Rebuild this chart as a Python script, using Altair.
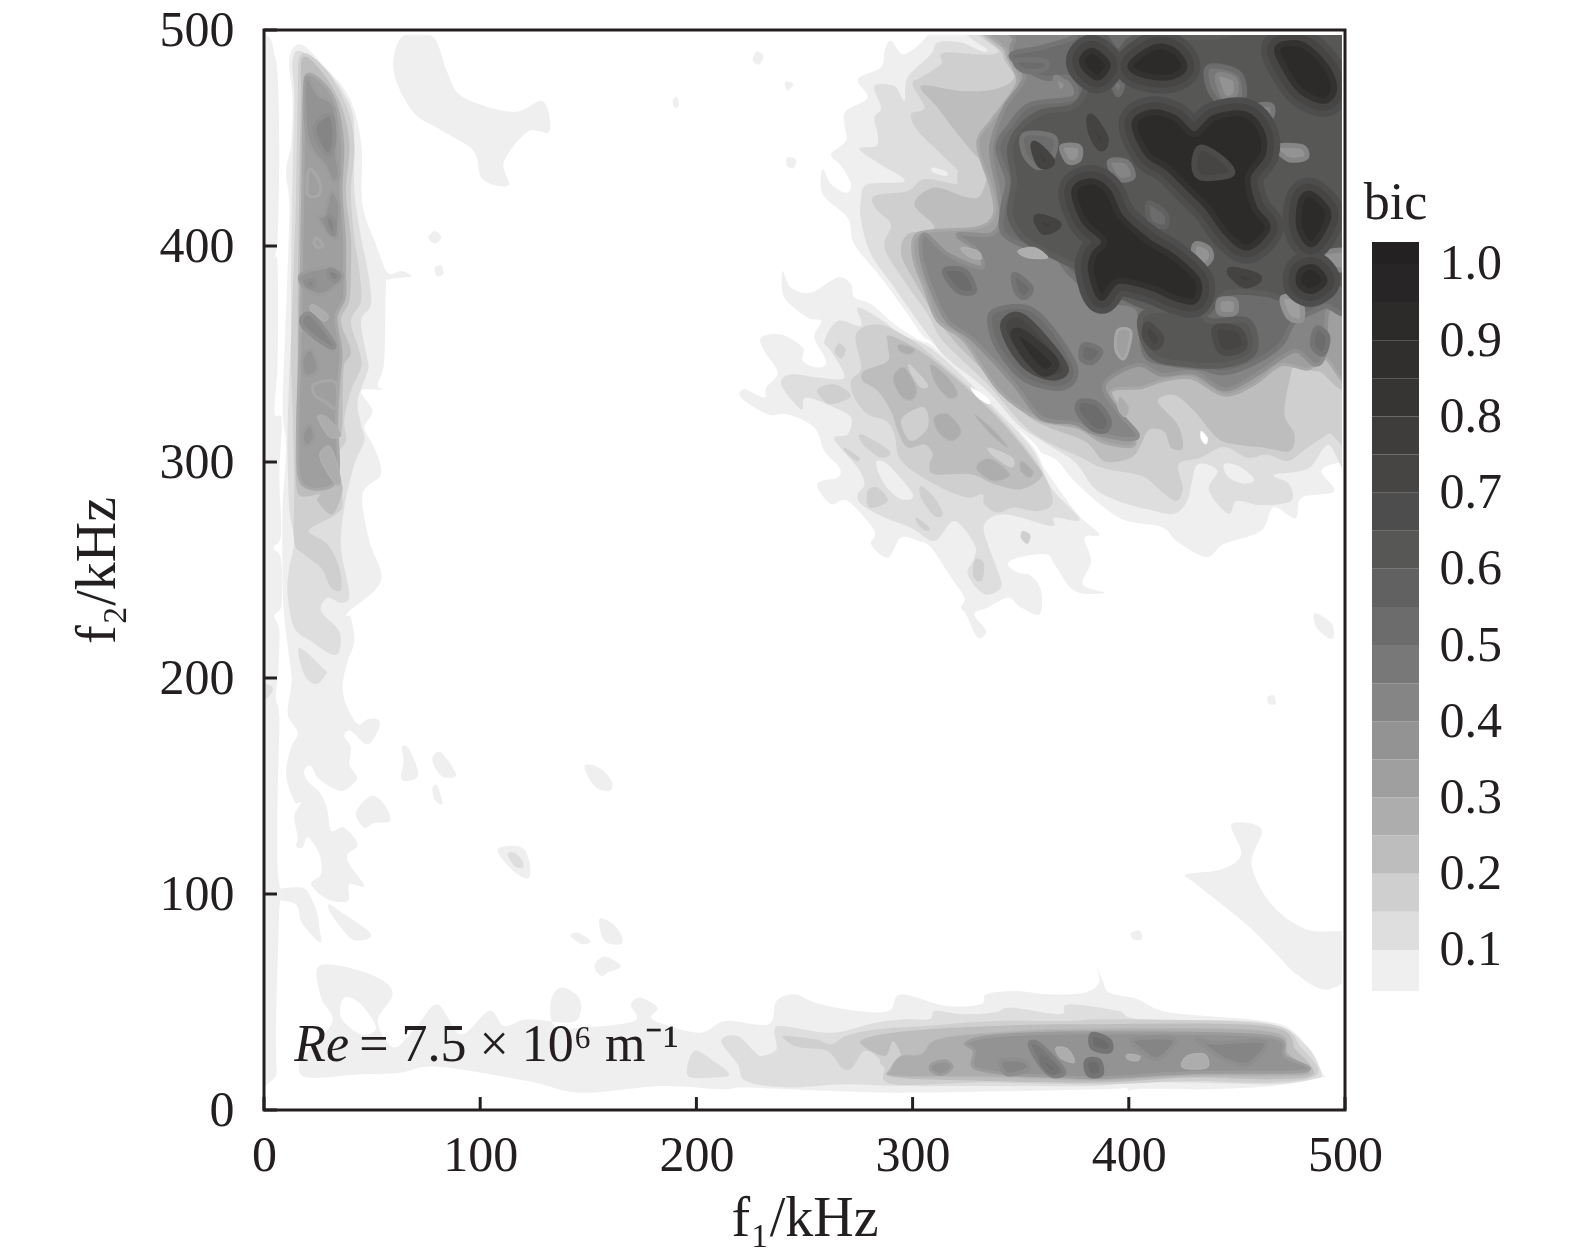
import altair as alt
import pandas as pd

INK = "#231f20"
FONT = "Liberation Serif"

# ---------- tick values and text ----------
AXIS_TICKS = [0, 100, 200, 300, 400, 500]
CBAR_TICKS = [0.1, 0.2, 0.3, 0.4, 0.5, 0.6, 0.7, 0.8, 0.9, 1.0]

# ---------- colour bands of the bic scale ----------
BAND_LOW = [0.046, 0.1, 0.15, 0.2, 0.25, 0.3, 0.35, 0.4, 0.45, 0.5, 0.55, 0.6, 0.65, 0.7, 0.75, 0.8, 0.85, 0.9, 0.95, 1.0]
BAND_HIGH = [0.1, 0.15, 0.2, 0.25, 0.3, 0.35, 0.4, 0.45, 0.5, 0.55, 0.6, 0.65, 0.7, 0.75, 0.8, 0.85, 0.9, 0.95, 1.0, 1.029]
LEVELS = [0, 0.05, 0.1, 0.15, 0.2, 0.25, 0.3, 0.35, 0.4, 0.45, 0.5, 0.55, 0.6, 0.65, 0.7, 0.75, 0.8, 0.85, 0.9, 0.95, 1.0]
GRAYS = ["#ffffff", "#efefef", "#dedede", "#cfcfcf", "#bdbdbd", "#adadad", "#9f9f9f", "#939393", "#858585", "#787878",
         "#6c6c6c", "#616161", "#575755", "#4e4d4d", "#464544", "#3e3d3c", "#363534", "#302f2e", "#2c2b29", "#272525", "#232122"]
EDGE_GRAYS = ["#ffffff", "#efefef", "#e6e6e6", "#d6d6d6", "#c6c6c6", "#b5b5b5", "#a8a8a8", "#9c9c9c", "#8e8e8e", "#808080",
              "#747474", "#686868", "#5d5d5c", "#545453", "#4c4b4a", "#444342", "#3c3b3a", "#393837", "#333230", "#333230", "#333230"]
EDGE_WIDTHS = [0, 0, 0, 0, 0, 1, 3, 3, 4, 4, 5, 5, 6, 6, 6, 8, 8, 8, 6, 6, 6]

# ---------- contours: (f1 kHz, f2 kHz) ----------
LEFT_STRIP = [(-5, 497), (2.5, 496.4), (4.8, 488.7), (6.3, 479.4), (7.1, 445.5), (6.3, 403.8), (4.8, 394.6), (6.3, 391.5), (6.3, 346.7),
              (4.8, 322.8), (8.2, 319.7), (7.1, 294.3), (7.9, 266.5), (4.5, 260.3), (7.9, 254.9), (8.2, 234.1), (4.8, 228.7), (7.1, 221.7),
              (6.6, 203.2), (5.5, 190.9), (7.1, 181.7), (6.3, 146.2), (6.3, 112.2), (7.9, 100), (7.1, 92.9), (6.3, 68.9), (5.5, 40), (5.5, 25), (5, 15), (-5, 14),
              (-5, 60), (-5, 120), (-5, 200), (-5, 300), (-5, 400), (-5, 470)]
BAND_V_05 = [(17, 493.3), (11.7, 487), (13.2, 468.6), (12.5, 447), (10.2, 434.7), (11.7, 419.3), (10.9, 388.4), (9.4, 349.8), (8.6, 323.6),
             (10.2, 306.6), (8.6, 278.8), (8.6, 248), (9.4, 227.9), (12.5, 203.2), (12.5, 195.6), (11, 183.2), (15.6, 174.7), (12.5, 167.8),
             (10.2, 155.4), (14, 143.1), (17.1, 142.3), (14, 136.1), (15.6, 126.1), (14.8, 122.2), (17.9, 121.5), (20.2, 126.4), (25.6, 118.4),
             (26.4, 109.1), (21.7, 104.5), (29.4, 97.6), (38.7, 96.8), (39.5, 104.5), (46.4, 103.7), (39.5, 113.8), (38.7, 118.4), (43.3, 123),
             (37.1, 130.7), (31, 129.2), (29.4, 138.5), (26.4, 146.2), (20.2, 152.3), (18.6, 157), (21.7, 159.3), (25.6, 153.1), (35.6, 147.7),
             (42.5, 152.3), (42.5, 155.4), (39.5, 160), (40.2, 167.8), (37.1, 173.2), (40.2, 175.5), (47.9, 169.3), (53.3, 177), (52.6, 180.9),
             (47.9, 180.9), (43.3, 178.6), (37.9, 187.8), (36.4, 197.1), (38.7, 207.9), (41.8, 217), (40.2, 227.9), (38.7, 230.2), (54.1, 244.9),
             (48.7, 263.4), (45.6, 285), (54.1, 294.3), (51, 306.6), (46.4, 315.9), (50.2, 323.6), (44.9, 332.9), (54.9, 333.6), (52.6, 335.9),
             (55.6, 346.7), (56.4, 380.7), (58, 384.5), (68, 386), (63.4, 388.4), (57.2, 387.6), (51.8, 400.7), (45.5, 419.3), (45, 447),
             (39.5, 468.6), (27, 484.1)]
BAND_V_10 = [(17.1, 490.2), (29.4, 481), (40.2, 464), (41.8, 447), (41.8, 425.4), (44.9, 403.8), (48, 388.4), (49.5, 373), (44.9, 365.2), (48, 346.7),
             (48, 342.1), (43.3, 328.2), (44.9, 317.4), (46.4, 309.7), (41.8, 298.9), (37.1, 278.8), (35.6, 260.3), (39.5, 238.7), (35.6, 234.9),
             (29.4, 237.2), (26.4, 231), (34.8, 221.7), (34.8, 212.5), (31, 211), (21.7, 217.1), (14, 223.3), (10.9, 238.7), (11.7, 251.1), (14, 263.4),
             (11.7, 278.8), (10.9, 309.7), (11.7, 340.6), (12.5, 360.6), (12.5, 388.4), (13.2, 433.1), (14, 468.6), (13.2, 485.6)]
BAND_V_10B = [(16.3, 214), (27.9, 204), (28.7, 201.7), (24, 197.1), (18.6, 201.7)]
BAND_V_15 = [(17.1, 488.7), (27.9, 482.5), (37.9, 465.5), (41.8, 447), (40.2, 425.4), (41.8, 403.8), (44.1, 388.4), (44.9, 374.5), (40.2, 365.2),
             (44.1, 351.4), (44.9, 343.7), (40.2, 332.9), (37.1, 319), (37.9, 309.7), (32.5, 300.4), (36.4, 281.9), (33.3, 275.8), (23.3, 270.4),
             (21, 267.3), (29.4, 261.9), (34.8, 251), (35.6, 241), (31, 241.8), (26.4, 251), (18.6, 257.2), (14, 263.4), (14, 288.1), (13.2, 325.1),
             (12.5, 348.3), (13.2, 376), (14.8, 422.3), (15.6, 468.6)]
BAND_V_20 = [(17.9, 487.2), (26.4, 481), (35.6, 465.5), (39.5, 447), (37.9, 425.4), (40.2, 403.8), (40.2, 388.4), (39.5, 374.5), (35.6, 365.2),
             (40.2, 351.4), (37.1, 345), (36.4, 332.9), (35.6, 312.8), (29.4, 305), (31.7, 294.3), (36.4, 288.1), (31.7, 275.8), (24.8, 281.9),
             (25.6, 285), (17.1, 284.2), (14.8, 291.2), (14.8, 317.4), (15.6, 348.3), (15.6, 376), (16.3, 422.3), (17.1, 468.6)]
BAND_V_30 = [(20.2, 479.4), (27.9, 474.8), (33.3, 465.5), (36.4, 447), (35.6, 425.4), (37.2, 403.8), (37.2, 388.4), (37.2, 376), (33.3, 366.8), (35.6, 351.4),
             (34.8, 340), (33.6, 320), (33.3, 291.2), (17.9, 289.6), (15.6, 309.7), (16.3, 340.6), (17.1, 376), (17.9, 422.3), (18.6, 468.6)]
V_LIGHT_30 = [[(23.3, 336), (33, 337), (33.3, 325.1), (27.9, 328.2), (23.3, 331.3)],
              [(21, 435.5), (25.6, 430), (25.6, 423.9), (20.2, 423.9)],
              [(24, 403.8), (27.1, 400.7), (25.6, 399.2), (23.3, 400.7)]]
V_LIGHT_25 = [[(24.8, 321.3), (29.4, 320.5), (35.6, 312.8), (31, 311.2), (27.1, 315.9)],
              [(26.4, 305.1), (31, 306.6), (35.6, 291.2), (32.5, 290.4), (26.4, 300.4)],
              [(22.5, 373), (29.4, 368.3), (27.9, 365.2), (21.7, 369.9)]]
V_DARK_35 = [[(19.4, 477.9), (24.8, 470.2), (32.5, 464), (33.3, 443.9), (34.8, 433.1), (31.7, 430), (27.9, 437.8), (22.5, 443.9), (19.4, 454.7)],
             [(27.9, 414.6), (31, 425.4), (34.8, 419.3), (34, 405.4), (31.7, 403.8), (24.8, 413.1)],
             [(17.1, 386.8), (29.4, 390), (36.4, 386.8), (34, 382.2), (26.4, 377.6), (18.6, 380.7)],
             [(17.9, 348.3), (21.7, 352.1), (24.8, 345.2), (23.3, 340.6), (18.6, 340.6)],
             [(17.9, 312.8), (21, 317.4), (23.3, 312.8), (21.7, 308.2), (18.6, 308.2)]]
V_DARK_40 = [[(23.3, 454.7), (27.9, 460.1), (31.7, 459.4), (32.5, 448.6), (30.2, 442.4), (26.4, 445.5)],
             [(30.2, 413.9), (32.5, 411.5), (32.5, 405.4), (30.2, 406.9), (28.7, 411.5)],
             [(30.2, 389.2), (34.8, 386.8), (33.3, 383.8), (30.2, 385.3)],
             [(19.4, 383.8), (23.3, 383.8), (22.5, 380.7), (20.2, 381.4)],
             [(17.1, 365.2), (21.7, 368.3), (31.7, 356), (31, 352.9), (21.7, 359.1)]]

CENTRE_05 = [(239.9, 388.4), (243.8, 380.7), (253, 378.4), (265.4, 385.4), (271.5, 382.3), (273.1, 376.1), (280.8, 373), (291.6, 363.8), (303.9, 356),
             (310.1, 353), (331.7, 332.9), (354.8, 308.2), (361.8, 295.8), (376.4, 275.8), (386.4, 266.5), (379.5, 265), (382.6, 254.2), (378.7, 243.4),
             (388.7, 239.5), (374.9, 240.3), (365.6, 252.7), (361.8, 257.3), (348.6, 255.7), (344, 252.7), (348.6, 248.8), (354.8, 247.3), (359.4, 240.3),
             (358.7, 229.5), (350.2, 232.6), (344, 237.2), (334.8, 232.6), (328.6, 229.5), (334, 221.8), (330.1, 218.7), (324.7, 229.5), (322.4, 232.6),
             (324, 237.2), (317.8, 246.5), (308.5, 260.4), (302.4, 263.5), (294.7, 265), (288.5, 255.7), (280.8, 261.9), (282.3, 268.1), (270, 282),
             (262.3, 280.5), (256.1, 288.1), (257.7, 291.2), (265.4, 292.8), (266.2, 297.4), (259.2, 305.1), (254.6, 315.9), (242.2, 322.1), (233, 322.1),
             (220.7, 329.8), (222.2, 333.7), (231.4, 329.8), (232.2, 334.4), (237.6, 341.4), (231.4, 351.4), (229.9, 357.6), (239.2, 359.1), (249.2, 352.9),
             (249.2, 346.8), (256.1, 343.7), (260, 346.8), (254.6, 357.6), (257.7, 365.3), (251.5, 366.8), (240.7, 376.1)]
CENTRE_10 = [(239.2, 336), (243.8, 340.6), (256.1, 339.1), (268.4, 339.1), (262.3, 351.4), (259.2, 356), (265.4, 365.3), (276.2, 363), (274.6, 371.5),
             (285.4, 366), (294.7, 359.1), (310.1, 351.4), (333.2, 329.8), (354.8, 306.7), (364.1, 288.1), (377.2, 273.5), (365.6, 274.3), (364.1, 270.4),
             (342.5, 275.8), (333.2, 271.2), (334.8, 261.9), (339.4, 249.6), (340.9, 241.9), (333.2, 238.8), (325.5, 248), (328.6, 255.7), (328.6, 261.9),
             (319.3, 272.7), (310.1, 263.5), (299.3, 269.6), (287, 274.3), (276.2, 280.4), (274.6, 285), (277.7, 289.7), (274.6, 297.4), (263.8, 310.5),
             (270, 312.8), (271.5, 320.6), (263.8, 325.2), (250.7, 329.8), (248.4, 324.4)]
CENTRE_15 = [(283.9, 363.8), (297.7, 357.6), (310.1, 348.3), (336.3, 325.2), (357.9, 299), (364.8, 282), (357.9, 277.3), (347.1, 278.9), (339.4, 276.6),
             (333.2, 280.4), (332.4, 285.1), (326.3, 283.5), (316.3, 286.6), (302.4, 294.3), (293.9, 302), (291.6, 312.8), (287.7, 319), (279.2, 322.1),
             (273.1, 329.8), (271.5, 337.5), (276.2, 343.7), (273.8, 359.1)]
CENTRE_20 = [(290, 358.4), (310.1, 346.8), (337.8, 322.1), (357.1, 299), (359.4, 292.8), (350.2, 287.4), (337.8, 289.7), (327, 294.3), (310.1, 294.3),
             (307.8, 299), (309.3, 303.6), (305.5, 308.2), (297.7, 306.7), (293.1, 314.4), (290, 323.6), (283.9, 332.9), (277, 337.5), (277.7, 342.2),
             (288.5, 346.8), (288.5, 354.5)]
C_HOLE_05 = [(283.1, 299.7), (288.5, 298.9), (300.1, 285.1), (294.7, 282.7), (287, 289.7)]
C_SPOTS_15 = [[(279.2, 286.6), (283.9, 288.1), (288.5, 281.9), (280, 278.9)],
              [(303.9, 288.9), (310.1, 283.5), (314, 275.8), (310.1, 275), (303.9, 283.5)],
              [(268.5, 306.7), (275.4, 302), (273.9, 300.5), (269.2, 304.4)],
              [(276.2, 312.8), (289.3, 305.1), (285.4, 302), (276.9, 308.2)],
              [(256.1, 333.7), (263.8, 336), (271.5, 330.6), (262.3, 326.7), (257.7, 329.8)],
              [(301.6, 274.3), (307.8, 269.7), (306.2, 268.1), (302.4, 271.2)],
              [(266, 355), (269, 352), (267, 348), (264, 351)],
              [(351, 268), (354.5, 266), (353, 262), (350, 265)],
              [(329, 255), (333, 253), (332, 245), (328, 247)]]
C_LIGHT_15 = [[(297, 322.1), (305.5, 325.2), (307, 315.9), (299.3, 309.8), (294.7, 317.5)],
              [(335.5, 306.7), (346.3, 302), (345.6, 297.4), (336.3, 303.6)],
              [(298.5, 345.2), (307, 336), (303.9, 334.4), (299.3, 340.6)]]
C_DARK_25 = [[(291.6, 340.6), (296.2, 343.7), (301.6, 334.4), (300.1, 329), (295.4, 329.8), (291.6, 336)],
             [(310.1, 320.6), (316.3, 322.1), (322.4, 314.4), (317.8, 309.8), (311.6, 314.4)],
             [(330.1, 299), (336.3, 301.3), (344.8, 294.3), (337.8, 291.2), (330.9, 295.1)],
             [(308.5, 345.2), (316.3, 339.1), (320.9, 331.4), (316.3, 329.8), (310.1, 337.5)],
             [(328.6, 322.1), (337.8, 314.4), (344, 306.7), (336.3, 312.8)],
             [(350.2, 300.5), (355.6, 295.8), (354, 292.8), (350.2, 295.8)],
             [(293.9, 354.5), (300.8, 352.2), (298.5, 349.9), (293.9, 351.4)]]
GAP_WHITE = [(327, 334.5), (334.7, 329.8), (335.5, 326.7), (330.1, 329.8)]

TR_05 = [(307, 505), (505, 505), (505, 300), (498.6, 300), (489, 296), (495, 286.5), (480, 283.5), (477, 274), (467, 279), (461, 268), (444, 262), (436, 256),
         (422.6, 263), (415, 270), (396, 274), (376.4, 289.6), (367, 300.5), (359.4, 304.5), (354.8, 310), (330, 332), (310, 354), (304.7, 358.4), (297.7, 368.4), (285.4, 385.4),
         (273, 400.8), (270, 413), (258.4, 424), (258.4, 435.5), (262.3, 428.6), (269.2, 424.7), (271.5, 428.6), (267, 437), (262.3, 442.5), (269.2, 448.6), (268.4, 456.4),
         (269.2, 462.5), (279.2, 468.7), (274.6, 477.2), (285.4, 482.6), (287, 490.3), (290, 495), (296.2, 488.8), (307, 497.7)]
TR_10 = [(335.5, 505), (505, 505), (505, 308), (492, 308), (483, 297), (467, 294), (474, 290), (475, 282), (461, 280), (450, 282), (446, 276), (437, 287), (441, 296),
         (432, 299), (429, 290), (427, 282), (421, 276), (409, 278), (395, 282), (384, 288), (375, 300), (361, 309), (348.6, 317.5), (334.7, 332.9), (315.6, 348.3),
         (309.3, 356), (302.4, 365.3), (291.6, 380.7), (280.8, 396.2), (276.2, 411.6), (276.2, 422.4), (279.2, 428.6), (296.2, 430.1), (286.2, 437.1), (275.4, 444.8), (283.1, 446.3),
         (283.9, 451.7), (282.3, 459.4), (285.4, 464), (282.3, 474.1), (291.6, 474.1), (296.2, 467.2), (297.7, 478), (308.5, 488.8), (311.6, 494.2), (322.4, 494.2), (334.7, 490.3)]
TR_15 = [(340, 505), (505, 505), (505, 323.6), (492, 313), (483, 307), (473.5, 300.5), (464, 303.5), (455, 302), (444, 307), (433, 302), (423, 299), (425, 288),
         (422, 282), (415, 286.5), (406, 293.5), (389, 297), (378, 302), (354.8, 314), (334.7, 336), (314, 356), (307, 368.4), (296.2, 383.8), (287, 399.3), (290, 410), (283.1, 417),
         (282.3, 423.2), (297.7, 425.5), (305.5, 430.9), (320.9, 428.6), (323.9, 431.7), (313.2, 442.5), (302.4, 453.3), (299.3, 461), (305.5, 464), (300, 474.9), (303.9, 478),
         (313.2, 484.1), (314.7, 489.5), (339.4, 489.5)]
TR_20 = [(344, 505), (505, 505), (505, 346.7), (487.4, 342), (477.4, 345), (474.3, 337.5), (472, 322), (476.6, 312.8), (474.3, 305), (462.7, 306.6), (450.4, 308),
         (441, 311), (430.3, 323.6), (421, 331), (413.4, 328), (422.6, 317.4), (425, 306.6), (419.5, 306.6), (416.5, 314), (409.5, 315), (405.6, 308), (401, 302),
         (388.7, 300.4), (379.4, 309.7), (355, 320), (335, 340), (319.3, 356), (310.1, 368.4), (300.8, 383.8), (294.7, 396.2), (297.7, 405.4), (310.1, 408.5), (300.8, 419.3),
         (310.1, 427), (325.5, 422.4), (331.7, 424), (334.7, 436.3), (328.6, 442.5), (320.9, 451.7), (311.6, 464), (303.9, 474.1), (322.4, 471.8), (337.8, 472.6), (347, 478), (341.7, 488.8)]
TR_30 = [(345.5, 505), (505, 505), (505, 348), (490.5, 348), (482.8, 343), (470.4, 345), (458, 336), (444.2, 331), (428.8, 339), (415, 337.5), (405.7, 334.4),
         (391.8, 332.8), (398, 320.5), (402.6, 308), (388.7, 309), (376.4, 316), (358, 320), (340, 333), (324, 356), (311.6, 365.3), (305.5, 380.7), (300.8, 393.1), (300.8, 403.9),
         (308.5, 407), (330.1, 408.5), (337.8, 414.7), (336.3, 427), (330.1, 447.1), (336.3, 457.9), (340.9, 464), (348.6, 476.4), (343.2, 490.3)]
TR_40 = [(358, 505), (505, 505), (505, 373), (498.6, 373), (492, 370), (490.5, 349.8), (486, 345), (478, 351.4), (470.4, 348.3), (458, 339.8), (444.2, 333.6),
         (430.3, 341.3), (415, 340.5), (404, 345), (388.7, 336), (395, 323.6), (404, 313), (399.5, 310.5), (384, 313.5), (375, 318), (359.4, 320.5), (347, 336),
         (328.6, 356), (316.2, 365.3), (308.5, 380.7), (303.9, 396.2), (305.5, 405.4), (316.2, 396.2), (331.7, 390), (330.1, 397.7), (320.9, 405.4), (336.3, 405.4), (340.9, 413.2),
         (339.4, 427), (336.3, 445.6), (342.5, 464), (351.7, 478), (346.3, 488.8), (347, 495)]
TR_50 = [(345.5, 488), (360, 492), (375, 497), (378, 505), (505, 505), (505, 380), (490, 372), (476.6, 365), (470.4, 354.4), (458, 346), (444.2, 341.3), (433.4, 343.6),
         (421, 345), (408.7, 348.3), (405.7, 359), (404, 371.4), (391.8, 374.5), (387, 376), (373, 387), (367, 394.6), (358, 397.7), (342.4, 405.4), (341.7, 417.8), (344, 430),
         (339.4, 445.6), (345.5, 456.4), (354.8, 465.6), (374.8, 468.7), (372, 478), (360, 478)]
TR_60 = [(378, 490), (388, 497), (395, 490), (405, 497), (440, 497), (505, 505), (505, 392), (490, 386), (478, 375), (462, 378), (445, 378), (433, 368), (408, 372), (395, 378),
         (385, 385), (372, 392), (360, 398), (350, 405), (345, 415), (347, 430), (345, 445), (350, 455), (360, 462), (375, 465), (381, 477)]
TR_LIGHT_PLAIN = [(0.15, [(322, 438), (330, 437), (331, 427), (326, 424), (321, 428)]),
                  (0.25, [(322.4, 399.3), (330.1, 397.7), (331.7, 393.9), (325.5, 395.4)]),
                  (0.25, [(348.6, 397.7), (356.3, 399.3), (362.5, 394.6), (353.2, 394.6)]),
                  (0.3, [(395, 361), (401, 360), (398, 348), (394, 352)]),
                  (0.25, [(396, 330), (400, 325), (398, 321), (395, 325)])]
TR_LIGHT = [(0.45, [(437, 483), (451, 480), (453, 468), (444, 465), (437, 473)]),
            (0.35, [(441, 479), (449, 477), (449, 470), (444, 469)]),
            (0.4, [(460, 465), (466, 465), (466, 460), (461, 460)]),
            (0.35, [(468, 446), (480, 446), (482, 441), (474, 440)]),
            (0.4, [(391, 439), (399, 439), (402, 432), (395, 431)]),
            (0.35, [(369, 446), (377, 446), (377, 440), (372, 439)]),
            (0.5, [(409, 420), (417, 415), (417, 409), (410, 411)]),
            (0.35, [(431, 401), (437, 399), (438, 394), (433, 390), (430, 396)]),
            (0.45, [(392, 477), (397, 475), (395, 470)]),
            (0.35, [(366, 478), (371, 475), (368, 471)]),
            (0.35, [(442, 375), (449, 375), (449, 369), (442, 369)]),
            (0.3, [(471, 376), (479, 375), (480, 366), (474, 367)]),
            (0.35, [(486, 396), (505, 398), (505, 389), (487, 391)])]
TR_CLUSTER_60 = [(406.4, 368.3), (430.3, 369.9), (438, 365.2), (455, 365.2), (458, 351.4), (445.7, 345.2), (427, 345.2), (410.3, 349.8)]
TR_CLUSTER_70 = [[(408.7, 363.7), (415, 357.5), (412, 353), (407.5, 358)], [(440, 362), (451, 361), (453, 353), (443, 351)]]
TR_DIAG_50 = [(337.8, 369.9), (356.3, 369.9), (374.8, 345.2), (370.2, 334.4), (353.2, 337.5), (342.4, 348.3), (336.3, 360.6)]
TR_DIAG_70 = [(342.4, 365.2), (351.7, 366.8), (370.2, 345.2), (365.6, 339), (353.2, 343.6), (344, 356)]
TR_DIAG_85 = [(347, 359), (351.7, 359), (365.6, 346.7), (361, 341.3), (353.2, 348.3)]
TR_BLOB_50 = [[(377.9, 328.2), (385.6, 326.7), (391, 319), (388.7, 314.3), (382.5, 315.9), (376.4, 323.6)],
              [(379.4, 354.4), (387, 351.4), (383, 346), (378, 348)],
              [(314.7, 388.5), (324, 388.5), (328.6, 379.2), (320.9, 379.2)],
              [(347, 386.9), (354.8, 380.7), (351.7, 376.1), (347.8, 379.2)],
              [(347.8, 485.7), (361, 485.7), (361, 481.8), (351.7, 481.1)],
              [(351.7, 451.7), (365.6, 450.2), (364, 439.4), (357.9, 436.3), (351.7, 442.5)],
              [(487, 362), (492, 358), (490, 350), (485, 354)]]
TR_CORE_LOBES = [[(402.6, 456.4), (410.3, 461.8), (421, 459.4), (430.3, 451.7), (439.6, 459.4), (453.5, 461), (461.2, 453.3), (462, 442.5), (455, 431.7), (458, 417.8), (464.2, 408.5),
                  (455, 399.3), (445.7, 405.4), (436.5, 417.8), (428.8, 425.5), (418, 436.3), (408.7, 442.5)],
                 [(374.8, 425.5), (382.5, 430), (390.2, 425.5), (396.4, 413.2), (408.7, 402.3), (421, 394.6), (431.9, 383.8), (430.3, 374.6), (421, 376.1), (410.3, 380.7), (394.9, 383.8),
                  (387.2, 376.1), (382.5, 388.5), (384, 396.2), (388.7, 402.3), (379.4, 411.6)],
                 [(383.3, 490.3), (390.2, 484.1), (385.6, 478), (379.4, 482.6), (378.7, 487.2)],
                 [(401, 484.1), (411.8, 491.9), (421, 490.3), (425.7, 482.6), (418, 478), (405.7, 479.5)],
                 [(468.9, 491.9), (479.7, 493.4), (490.5, 484.1), (495, 473.3), (490.5, 467.2), (479.7, 471.8), (472, 482.6)],
                 [(479.7, 420.9), (484.3, 424), (492, 416.2), (490.5, 408.5), (484.3, 400.8), (478.9, 408.5)],
                 [(479.7, 388.5), (485.8, 390), (490.5, 383.8), (484.3, 379.2), (478.9, 382.3)]]
TR_CORE_SPOTS = [[(356.3, 447), (364, 439.4), (359.4, 437.8)], [(357.9, 413.2), (367, 410), (361, 407)],
                 [(382.5, 459.4), (388.7, 450.2), (387.2, 445.6), (383.3, 451.7)], [(447.3, 388.5), (459.6, 385.4), (453.5, 382.3)]]
TR_CORE_INNER = [(433.4, 445.6), (444.2, 439.4), (447.3, 433.2), (433.4, 431.7), (430.3, 437.8)]
SPECK_WHITE = [(433.4, 314.3), (436.5, 311.2), (435.7, 308.1), (433.4, 310.5)]
TR_HOLE_05 = [[(444, 299), (451, 298), (458, 292), (453, 290), (446, 293)],
              [(290, 457.9), (293.1, 458.7), (300, 447.9), (296.2, 442.5), (290.8, 448.6)],
              [(309.3, 436.3), (315.5, 434.5), (315.5, 432.4), (309.3, 434.3)]]

BOTTOM_05 = [(16.3, 21.2), (20.2, 15), (44.9, 16.5), (63.4, 17.3), (80.3, 20), (122, 13.4), (146.6, 8), (183.6, 11.1), (211.4, 9.6), (221, 10.4), (243.6, 9.6), (296.5, 8),
             (387, 9.6), (398.5, 10.4), (400.3, 6.5), (403, 9.6), (436.2, 9.6), (466.4, 11.1), (489, 15), (490, 16.5), (477.7, 35), (462.6, 41.2), (419.2, 45.1), (404.1, 51.3),
             (391, 54.3), (388, 59.7), (385.2, 65.9), (386.2, 59), (379.6, 54.3), (362.6, 53.6), (347.5, 55.1), (334.2, 53.6), (331.4, 49), (315.4, 48.2), (294.6, 53.6), (289, 45.9),
             (273.8, 45.9), (255, 49.7), (245.5, 53.6), (237, 50.5), (233.2, 39.7), (213.4, 41.2), (202, 35.8), (185, 39.7), (179, 42.8), (182, 47.4), (174.4, 52), (169.7, 48.9),
             (171.3, 41.2), (146.6, 38.1), (134.3, 38.9), (132.7, 50.5), (137.4, 56.7), (145.1, 52.8), (146.6, 45.9), (142, 40.5), (122, 42), (111.1, 38.9), (104.2, 45.9), (91, 35),
             (80.3, 48.9), (70, 38), (60, 29), (52.6, 41.2), (59.5, 53.6), (52.6, 61.3), (35.6, 66.7), (24.8, 65.9), (26.4, 52), (31.7, 41.2), (21.7, 28.9)]
BOTTOM_HOLE = [(37.1, 52), (44.9, 48.9), (51.8, 38.1), (44.9, 35), (35.6, 42.8)]
BOTTOM_10A = [(199, 27.3), (207.8, 22.7), (215.3, 16.5), (207.8, 15), (196, 16)]
BOTTOM_10 = [(211.5, 32), (219.1, 34.3), (226.6, 27.3), (230.4, 25), (237, 28.1), (236.1, 36.6), (239.9, 38.9), (262.5, 35.8), (283.3, 40.5), (296.5, 42), (307.8, 42), (310.6, 45.9),
             (322.9, 44.3), (338, 45.1), (345.6, 47.4), (368.2, 44.3), (372, 48.9), (394.7, 45.9), (406, 42), (462.6, 40.5), (481.5, 30.4), (489, 17.3), (485.3, 14.2), (466.4, 11.9),
             (428.6, 12.7), (402.2, 12.7), (383.3, 11.1), (334.2, 11.1), (292.7, 11.1), (268.2, 11.9), (241.7, 10.4), (222.9, 13.4), (219.1, 21.2)]
BOTTOM_15 = [(240.8, 34.3), (255, 32.7), (262.5, 30.4), (269.1, 34.3), (283.3, 37.4), (305.9, 38.9), (338, 41.2), (370.1, 41.2), (394.7, 42), (464.5, 39.7), (479.6, 29.1), (487.2, 16.5),
             (466.4, 12.7), (428.6, 13.4), (387.1, 11.9), (334.2, 12.7), (290.8, 11.9), (287, 19.6), (285.2, 21.2), (284.2, 24.2), (277.6, 27.3), (272, 19.6), (267.2, 19.6), (260.6, 27.3),
             (247.4, 29.1), (241.7, 32)]
BOTTOM_20 = [(275.7, 31.2), (285.2, 35), (307.8, 37.4), (338, 38.9), (375.8, 39.7), (462.6, 38.9), (477.7, 27.3), (485.3, 16.5), (466.4, 14.2), (428.6, 15), (387.1, 12.7), (334.2, 13.4),
             (292.7, 15), (289, 18.8), (294.6, 22.7), (294.6, 25.8), (290.8, 32), (287, 25)]
BOTTOM_25 = [(289.9, 18.8), (294.6, 25), (304, 25.8), (311.6, 32.7), (338, 35.8), (377.7, 37.4), (462.6, 36.6), (474, 25.8), (483.4, 17.3), (466.4, 15.8), (428.6, 15.8), (387.1, 13.8),
             (339.9, 15.3), (292.7, 15.8)]
BOTTOM_35 = [(324.8, 31.2), (338, 34.3), (379.6, 35.8), (462.6, 34.3), (472.1, 25), (481.5, 18.1), (428.6, 17.3), (387.1, 15), (364.5, 15.8), (345.6, 16.5), (328.6, 19.6), (328.6, 27.3)]
BOTTOM_LIGHT = [[(426.8, 25), (435.2, 25.8), (436.2, 19.6), (424.9, 19.6)], [(366.3, 28.9), (372, 28.1), (374.8, 22), (368.2, 24.2)], [(399.4, 25.8), (405, 25), (404.1, 22.7), (399.4, 23.5)]]
BOTTOM_DARK = [(0.45, [(354.1, 30.4), (358.8, 30.4), (370.1, 18.1), (364.5, 15.8), (358.8, 21.2)]), (0.5, [(359.7, 24.2), (366.3, 19.6), (364.5, 17.3), (360.7, 20.4)]),
               (0.5, [(383.3, 35), (390.9, 32), (390.9, 27.3), (383.3, 28.9)]), (0.5, [(380.5, 22.7), (386.2, 22.7), (387.1, 16.5), (381.5, 16.5)]),
               (0.4, [(402.2, 32.7), (421.1, 32.7), (413.5, 23.5), (406, 27.3)]), (0.4, [(431.5, 32.7), (440, 31.2), (460.7, 32), (462.6, 28.1), (455, 21.2), (445.6, 22.7), (436.2, 28.9)]),
               (0.4, [(340.9, 22.7), (351.2, 22.7), (353.1, 18.8), (343.7, 16.5)]), (0.35, [(308.8, 21.2), (315.4, 22.7), (318.2, 19.6), (313.5, 16.5), (308.8, 18.1)])]

SMALL_05 = [[(64, 497), (78, 497), (85, 480), (92, 469), (115, 462), (129, 467), (132, 453), (122, 453), (111, 439), (113, 428), (101, 431), (97, 444), (83, 453), (69, 462), (60, 481)],
            [(447.5, 132.3), (461.4, 130), (456.8, 113.7), (466, 95.2), (482.3, 83.6), (505, 81.2), (505, 65), (491.6, 55.7), (477.7, 62.7), (468.4, 72), (454.5, 85.9), (431.2, 104.5), (426.6, 109.1), (442.8, 111.4), (452, 118.4)],
            [(17.1, 103), (21.7, 98.3), (24.8, 90.6), (25.6, 84.4), (26.4, 77.5), (21.7, 81.4), (17.1, 87.5), (14.8, 95.2), (6.3, 97.6), (3.2, 101.4)],
            [(30.2, 95.2), (34.8, 92.2), (49.5, 81.4), (41.8, 78.6), (35.6, 84.5), (30.2, 92.2)],
            [(42.5, 137.7), (49.5, 145.4), (55.6, 141.5), (58.4, 133.8), (51, 133), (46.4, 130.7)],
            [(63.8, 168.1), (67.2, 167), (71.4, 155.4), (66.4, 152.3), (63.4, 153.9), (64.6, 161.6)],
            [(78, 163.1), (81.9, 165.5), (88.8, 155.4), (83.4, 153.9), (79.5, 157.7)],
            [(78, 149.3), (80.3, 150), (82.6, 141.5), (78.8, 143.9)],
            [(148.2, 159.3), (155.1, 158.5), (160.8, 152.3), (159.7, 147.7), (152.8, 150)],
            [(108.8, 121.5), (118.9, 121.8), (122.7, 115.3), (122.7, 107.6), (117.3, 109.1), (109.6, 116.9)],
            [(155.1, 88.3), (160.5, 86.8), (165.1, 81.4), (165.1, 76.7), (157.4, 78.3)],
            [(141.7, 80.6), (145.1, 82.1), (151, 78.3), (147.4, 76.7)],
            [(152.8, 66.7), (157.4, 71.1), (165.1, 66.7), (159, 63.6), (155.9, 62)],
            [(76, 404), (79, 407), (82, 404), (79, 401)],
            [(79, 390), (82, 391), (83, 387), (80, 386)],
            [(189, 467), (191, 469), (192, 465), (190, 464)],
            [(228, 490), (231, 488), (229, 484), (226, 486)],
            [(241, 476), (245, 475), (242, 472)],
            [(242, 441), (246, 440), (245, 436), (242, 437)],
            [(464, 191), (467, 192), (468, 188), (465, 188)],
            [(486, 230), (494, 225), (494, 218), (487, 223)],
            [(401, 82), (405, 83), (406, 79), (402, 79)]]
SMALL_10 = [[(112.7, 118.4), (115.8, 119.2), (119.6, 115.3), (119.6, 112.2), (115.8, 113)],
            [(-3, 198), (4, 195.6), (1.7, 190.9), (-3, 190)]]

# painter's order: (bic level, contour)
CONTOURS = [(0.05, LEFT_STRIP)] + [(0.05, s) for s in SMALL_05] + [(0.1, s) for s in SMALL_10] + [
    (0.05, BAND_V_05), (0.1, BAND_V_10), (0.1, BAND_V_10B), (0.15, BAND_V_15), (0.2, BAND_V_20), (0.3, BAND_V_30)
] + [(0.3, s) for s in V_LIGHT_30] + [(0.25, s) for s in V_LIGHT_25] + [(0.35, s) for s in V_DARK_35] + [(0.4, s) for s in V_DARK_40] + [
    (0.05, BOTTOM_05), (0, BOTTOM_HOLE), (0.1, BOTTOM_10A), (0.1, BOTTOM_10), (0.15, BOTTOM_15), (0.2, BOTTOM_20), (0.25, BOTTOM_25), (0.35, BOTTOM_35)
] + [(0.25, s) for s in BOTTOM_LIGHT] + BOTTOM_DARK + [
    (0.05, TR_05), (0.05, TR_HOLE_05[1]), (0.1, TR_10), (0.15, TR_15), (0.2, TR_20), (0.3, TR_30), (0.4, TR_40), (0.5, TR_50), (0.6, TR_60)
] + TR_LIGHT_PLAIN + [(0.6, TR_CLUSTER_60)] + [(0.7, s) for s in TR_CLUSTER_70] + [(0.5, TR_DIAG_50), (0.7, TR_DIAG_70), (0.85, TR_DIAG_85)] + [
    (0.5, s) for s in TR_BLOB_50
]
CORE_OUTER = [(0.7, s) for s in TR_CORE_LOBES]
CORE_MID = [(0.8, s) for s in TR_CORE_LOBES]
CORES = [(0.9, s) for s in TR_CORE_LOBES] + [(0.75, s) for s in TR_CORE_SPOTS] + [(0.7, TR_CORE_INNER), (0, SPECK_WHITE), (0.05, TR_HOLE_05[0]), (0.05, TR_HOLE_05[2])] + [
    (0.05, CENTRE_05), (0.1, CENTRE_10), (0.15, CENTRE_15), (0.2, CENTRE_20), (0.05, C_HOLE_05)
] + [(0.15, s) for s in C_SPOTS_15] + [(0.15, s) for s in C_LIGHT_15] + [(0.25, s) for s in C_DARK_25] + [(0, GAP_WHITE)]

rows = []
pid = 0
def add(group, edge_step=None, width=None):
    global pid
    for level, contour in group:
        i = LEVELS.index(level)
        edge = EDGE_GRAYS[i] if edge_step is None else GRAYS[min(max(i + edge_step, 0), 20)]
        w = EDGE_WIDTHS[i] if width is None else width
        for seq, (a, b) in enumerate(contour):
            rows.append({"id": pid, "seq": seq, "f1": a, "f2": b, "level": level, "edge": edge, "w": w})
        pid += 1
add(CONTOURS)
add(TR_LIGHT, edge_step=1, width=5)
add(CORE_OUTER, edge_step=-1, width=32)
add(CORE_MID, edge_step=-2, width=20)
add(CORES)
contour_df = pd.DataFrame(rows)

X = alt.Scale(domain=[0, 500], nice=False, zero=False)
Y = alt.Scale(domain=[0, 500], nice=False, zero=False)
X_AXIS = alt.Axis(values=AXIS_TICKS, title="f\u2081/kHz", tickSize=0, domain=False, grid=False, labelPadding=20, labelFontSize=50, labelFont=FONT, labelColor=INK,
                  labelFlush=False, labelOverlap=False, titleFont=FONT, titleFontSize=56, titleFontWeight="normal", titleColor=INK, titlePadding=11)
Y_AXIS = alt.Axis(values=AXIS_TICKS, title="f\u2082/kHz", tickSize=0, domain=False, grid=False, labelPadding=30, labelFontSize=50, labelFont=FONT, labelColor=INK,
                  labelFlush=False, labelOverlap=False, titleFont=FONT, titleFontSize=56, titleFontWeight="normal", titleColor=INK, titlePadding=33)
def xe(f): return alt.X(f, scale=X, axis=X_AXIS)
def ye(f): return alt.Y(f, scale=Y, axis=Y_AXIS)

fields = alt.Chart(contour_df).mark_line(interpolate="cardinal-closed", tension=0, clip=True, strokeJoin="round").encode(
    x=xe("f1:Q"), y=ye("f2:Q"),
    order="seq:Q",
    detail="id:N",
    fill=alt.Fill("level:O", scale=alt.Scale(domain=LEVELS, range=GRAYS), legend=None),
    stroke=alt.Stroke("edge:N", scale=None),
    strokeWidth=alt.StrokeWidth("w:Q", scale=None),
)

# white margin just inside the frame
margin_df = pd.DataFrame({"x0": [498.6, 0], "x1": [500, 500], "y0": [0, 497.7], "y1": [500, 500]})
margins = alt.Chart(margin_df).mark_rect(fill="white").encode(x=xe("x0:Q"), x2="x1:Q", y=ye("y0:Q"), y2="y1:Q")

tick_df = pd.DataFrame({"f": AXIS_TICKS, "zero": [0] * 6, "tick": [6] * 6})
x_ticks = alt.Chart(tick_df).mark_rule(color=INK, strokeWidth=3).encode(x=xe("f:Q"), y=ye("zero:Q"), y2="tick:Q")
y_ticks = alt.Chart(tick_df).mark_rule(color=INK, strokeWidth=3).encode(y=ye("f:Q"), x=xe("zero:Q"), x2="tick:Q")

frame_df = pd.DataFrame({"a": [0], "b": [500], "c": [0], "d": [500]})
frame = alt.Chart(frame_df).mark_rect(fill=None, stroke=INK, strokeWidth=3).encode(x=xe("a:Q"), x2="b:Q", y=ye("c:Q"), y2="d:Q")

note_df = pd.DataFrame({"f1": [14, 44], "f2": [22.8, 22.8], "t": ["Re", "= 7.5 \u00d7 10\u2076 m\u207b\u00b9"]})
note_re = alt.Chart(note_df.iloc[[0]]).mark_text(font=FONT, fontSize=52, fontStyle="italic", align="left", baseline="alphabetic", color=INK).encode(
    x=xe("f1:Q"), y=ye("f2:Q"), text="t:N")
note_val = alt.Chart(note_df.iloc[[1]]).mark_text(font=FONT, fontSize=52, align="left", baseline="alphabetic", color=INK).encode(
    x=xe("f1:Q"), y=ye("f2:Q"), text="t:N")

main = alt.layer(fields, margins, x_ticks, y_ticks, frame, note_re, note_val).properties(width=1081, height=1080)

# ---------- colour bar ----------
band_df = pd.DataFrame({"low": BAND_LOW, "high": BAND_HIGH, "level": [0.05] + BAND_LOW[1:], "a": [0] * 20, "b": [1] * 20})
CB_Y = alt.Scale(domain=[-0.110, 1.307], nice=False, zero=False)
CB_X = alt.Scale(domain=[0, 1], nice=False)
CB_AXIS = alt.Axis(orient="right", title=None, values=CBAR_TICKS, format=".1f", tickSize=0, domain=False, grid=False, labelPadding=20, labelFontSize=50, labelFont=FONT, labelColor=INK)
bar = alt.Chart(band_df).mark_rect().encode(
    x=alt.X("a:Q", scale=CB_X, axis=None), x2="b:Q",
    y=alt.Y("low:Q", scale=CB_Y, axis=CB_AXIS),
    y2="high:Q",
    fill=alt.Fill("level:O", scale=alt.Scale(domain=LEVELS, range=GRAYS), legend=None),
)
bic_df = pd.DataFrame({"a": [0.5], "v": [1.045], "t": ["bic"]})
bic = alt.Chart(bic_df).mark_text(font=FONT, fontSize=52, baseline="bottom", color=INK).encode(
    x=alt.X("a:Q", scale=CB_X, axis=None), y=alt.Y("v:Q", scale=CB_Y, axis=CB_AXIS), text="t:N")
cbar = alt.layer(bar, bic).properties(width=47, height=1080)

chart = alt.hconcat(main, cbar, spacing=27, bounds="flush").resolve_scale(fill="independent").configure_view(stroke=None).properties(
    background="white", padding={"left": 61, "top": -3, "right": 5, "bottom": 5})

chart.save("out.html", embed_options={"renderer": "svg", "actions": False})
